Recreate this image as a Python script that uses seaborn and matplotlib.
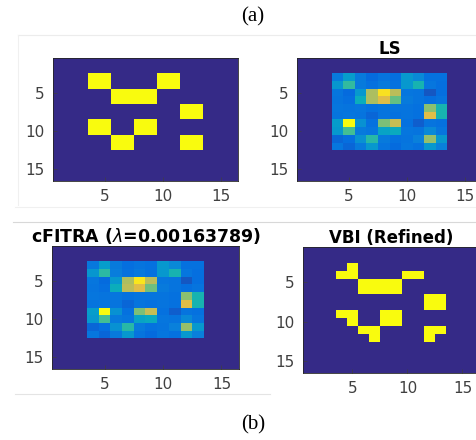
import numpy as np
import matplotlib
matplotlib.use("Agg")
import matplotlib.pyplot as plt
from matplotlib.colors import LinearSegmentedColormap
from matplotlib.lines import Line2D
import seaborn as sns

# ground truth and VBI masks (16 x 16, '#' = 1)
truth_rows = [
    "................",
    "................",
    "...##....##.....",
    "...##....##.....",
    ".....####.......",
    ".....####.......",
    "...........##...",
    "...........##...",
    "...##..##.......",
    "...##..##.......",
    ".....##....##...",
    ".....##....##...",
    "................",
    "................",
    "................",
    "................",
]
vbi_rows = [
    "................",
    "................",
    "....#...........",
    "...##....##.....",
    ".....####.......",
    ".....####.......",
    "...........##...",
    "...........##...",
    "...##..##.......",
    "....#..##.......",
    ".....##....##...",
    "......#....#....",
    "................",
    "................",
    "................",
    "................",
]

# LS estimate inside rows 3-12, cols 4-13
ls_inner = [
    [0.16, 0.30, 0.16, 0.10, 0.13, 0.11, 0.28, 0.22, 0.12, 0.12],
    [0.27, 0.47, 0.16, 0.12, 0.16, 0.12, 0.28, 0.42, 0.14, 0.11],
    [0.14, 0.10, 0.28, 0.66, 0.92, 0.68, 0.14, 0.13, 0.07, 0.11],
    [0.13, 0.11, 0.38, 0.66, 0.76, 0.55, 0.16, 0.13, 0.11, 0.13],
    [0.14, 0.13, 0.14, 0.12, 0.13, 0.13, 0.13, 0.12, 0.60, 0.42],
    [0.13, 0.14, 0.13, 0.09, 0.13, 0.12, 0.13, 0.12, 0.76, 0.42],
    [0.30, 1.00, 0.25, 0.12, 0.58, 0.70, 0.12, 0.08, 0.13, 0.12],
    [0.28, 0.50, 0.16, 0.14, 0.33, 0.36, 0.14, 0.13, 0.22, 0.14],
    [0.09, 0.11, 0.25, 0.45, 0.16, 0.12, 0.13, 0.18, 0.62, 0.28],
    [0.14, 0.09, 0.16, 0.28, 0.13, 0.10, 0.14, 0.12, 0.28, 0.18],
]
# cFITRA estimate, same window
cfitra_inner = [
    [0.15, 0.30, 0.16, 0.11, 0.13, 0.12, 0.28, 0.22, 0.12, 0.12],
    [0.27, 0.46, 0.17, 0.12, 0.15, 0.12, 0.28, 0.42, 0.14, 0.11],
    [0.14, 0.10, 0.28, 0.66, 0.94, 0.68, 0.14, 0.13, 0.07, 0.11],
    [0.13, 0.11, 0.38, 0.68, 0.76, 0.56, 0.16, 0.13, 0.11, 0.13],
    [0.14, 0.13, 0.14, 0.12, 0.13, 0.13, 0.13, 0.12, 0.60, 0.42],
    [0.13, 0.14, 0.13, 0.09, 0.13, 0.12, 0.13, 0.12, 0.76, 0.42],
    [0.30, 1.00, 0.25, 0.12, 0.58, 0.70, 0.12, 0.08, 0.13, 0.12],
    [0.28, 0.50, 0.16, 0.14, 0.33, 0.36, 0.14, 0.13, 0.22, 0.14],
    [0.09, 0.11, 0.25, 0.45, 0.16, 0.12, 0.13, 0.18, 0.62, 0.28],
    [0.14, 0.09, 0.16, 0.28, 0.13, 0.10, 0.14, 0.12, 0.28, 0.18],
]
inner_row0, inner_col0 = 2, 3
tick_labels = [5, 10, 15]
titles = ["", "LS", "cFITRA ($\\lambda$=0.00163789)", "VBI (Refined)"]

# parula-like colormap
parula = LinearSegmentedColormap.from_list("parula", [
    (0.2081, 0.1663, 0.5292), (0.0165, 0.4266, 0.8786), (0.0384, 0.5195, 0.8536),
    (0.0245, 0.6165, 0.7956), (0.0498, 0.6925, 0.7173), (0.2586, 0.7462, 0.5849),
    (0.5427, 0.7520, 0.4390), (0.7741, 0.7394, 0.3340), (0.9546, 0.7403, 0.2432),
    (0.9769, 0.8476, 0.1478), (0.9763, 0.9831, 0.0538)])


def mask(rows):
    return np.array([[1.0 if ch == "#" else 0.0 for ch in r] for r in rows])


def embed(inner):
    grid = np.zeros((16, 16))
    a = np.array(inner)
    grid[inner_row0:inner_row0 + a.shape[0], inner_col0:inner_col0 + a.shape[1]] = a
    return grid


panels = [mask(truth_rows), embed(ls_inner), embed(cfitra_inner), mask(vbi_rows)]

W, H = 477, 440
plt.rcParams['font.family'] = ['DejaVu Sans']
fig = plt.figure(figsize=(W / 100, H / 100), dpi=100)

# pixel boxes: left, top, right, bottom
boxes = [(53, 58, 238, 181), (297, 58, 482, 181), (52, 246, 239, 369), (303, 247, 479, 373)]
title_sizes = [12, 12, 12.5, 12]

for data, title, fs, (l, t, r, b) in zip(panels, titles, title_sizes, boxes):
    ax = fig.add_axes([l / W, 1 - b / H, (r - l) / W, (b - t) / H])
    sns.heatmap(data, ax=ax, cmap=parula, vmin=0, vmax=1, cbar=False,
                xticklabels=False, yticklabels=False)
    ax.set_xticks([v - 0.5 for v in tick_labels])
    ax.set_xticklabels(tick_labels)
    ax.set_yticks([v - 0.5 for v in tick_labels])
    ax.set_yticklabels(tick_labels, rotation=0)
    ax.tick_params(direction="in", length=3, width=0.5, colors="#404040",
                   labelsize=11, pad=6)
    for s in ax.spines.values():
        s.set_visible(True)
        s.set_color("#262626")
        s.set_linewidth(0.6)
    if title:
        ax.set_title(title, fontsize=fs, fontweight="bold", pad=3)

# faint borders of the pasted screenshots
for x0, y0, x1, y1, c in [(18, 35, 477, 35, "#ececec"), (18, 35, 18, 205, "#f0f0f0"),
                          (15, 207, 477, 207, "#f0f0f0"), (13, 222, 477, 222, "#d8d8d8"),
                          (15, 394, 270, 394, "#e4e4e4")]:
    fig.add_artist(Line2D([x0 / W, x1 / W], [1 - y0 / H, 1 - y1 / H],
                          transform=fig.transFigure, color=c, linewidth=0.8))

fig.text(253 / W, 1 - 17 / H, "(a)", ha="center", va="center",
         family="Liberation Serif", fontsize=15)
fig.text(253 / W, 1 - 425 / H, "(b)", ha="center", va="center",
         family="Liberation Serif", fontsize=15)

fig.savefig("out.png", dpi=100)
